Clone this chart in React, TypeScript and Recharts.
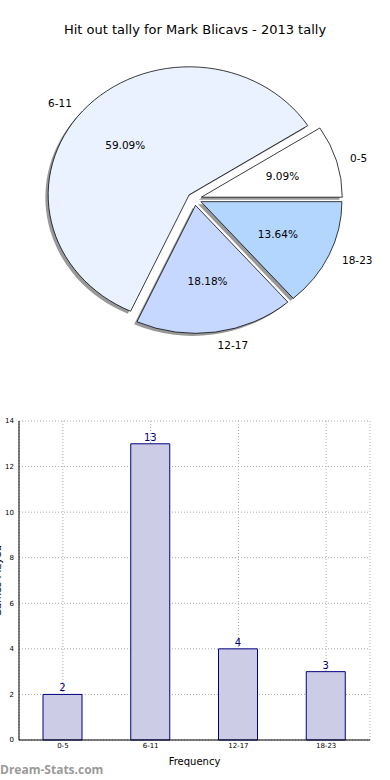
import React from 'react';
import {
  Bar,
  BarChart,
  CartesianGrid,
  Cell,
  LabelList,
  Pie,
  PieChart,
  XAxis,
  YAxis,
} from 'recharts';

const categories = ['0-5', '6-11', '12-17', '18-23'];
const counts = [2, 13, 4, 3];
const pieColors = ['#ffffff', '#eaf1ff', '#c6d8ff', '#b3d6ff'];
const yTicks = [0, 2, 4, 6, 8, 10, 12, 14];

const FONT = '"DejaVu Sans", sans-serif';
const R = 141;
const SY = 128 / 141; // matplotlib pie is not drawn with equal aspect, so it is squashed
const CX = 194.5;
const CY = 199 / SY;
const EXPLODE = 0.05 * R;
const SHADOW = 0.02 * R;

const total = counts.reduce((a, b) => a + b, 0);
const pieData = categories.map((name, i) => ({ name, value: counts[i] }));
const barData = categories.map((name, i) => ({ name, value: counts[i] }));

// mid angle of each wedge, used only for the explode offset
const midAngles = counts.map((_, i) => {
  const before = counts.slice(0, i).reduce((a, b) => a + b, 0);
  return ((before + counts[i] / 2) / total) * 360;
});

const unsquash = (x: number, y: number) =>
  `translate(${x} ${y}) scale(1 ${1 / SY}) translate(${-x} ${-y})`;

const makeLabel = (target: number) => (props: any) => {
  const { cx, cy, midAngle, index, percent } = props;
  if (index !== target) return null;
  const rad = (-midAngle * Math.PI) / 180;
  const lx = cx + 1.1 * R * Math.cos(rad);
  const ly = cy + 1.1 * R * Math.sin(rad);
  const px = cx + 0.6 * R * Math.cos(rad);
  const py = cy + 0.6 * R * Math.sin(rad);
  return (
    <g>
      <text
        x={lx}
        y={ly}
        transform={unsquash(lx, ly)}
        textAnchor={lx > cx ? 'start' : 'end'}
        dominantBaseline="central"
        fontSize={10.5}
        fontFamily={FONT}
        fill="#000"
      >
        {categories[index]}
      </text>
      <text
        x={px}
        y={py}
        transform={unsquash(px, py)}
        textAnchor="middle"
        dominantBaseline="central"
        fontSize={10.5}
        fontFamily={FONT}
        fill="#000"
      >
        {(percent * 100).toFixed(2)}%
      </text>
    </g>
  );
};

const App: React.FC = () => (
  <div style={{ position: 'absolute', left: 0, top: 0, width: 390, height: 780, background: '#fff' }}>
    <div
      style={{
        position: 'absolute',
        left: 0,
        top: 22,
        width: 390,
        textAlign: 'center',
        fontFamily: FONT,
        fontSize: 13,
        color: '#000',
      }}
    >
      Hit out tally for Mark Blicavs - 2013 tally
    </div>

    <div
      style={{
        position: 'absolute',
        left: 0,
        top: 0,
        width: 390,
        height: 420,
        transform: `scaleY(${SY})`,
        transformOrigin: '0 0',
      }}
    >
      <PieChart width={390} height={420} margin={{ top: 0, right: 0, bottom: 0, left: 0 }}>
        {categories.map((c, i) => {
          const rad = (midAngles[i] * Math.PI) / 180;
          return (
            <Pie
              key={`s-${c}`}
              data={pieData}
              dataKey="value"
              nameKey="name"
              cx={CX + EXPLODE * Math.cos(rad) - SHADOW}
              cy={CY - EXPLODE * Math.sin(rad) + SHADOW}
              outerRadius={R}
              startAngle={0}
              endAngle={360}
              isAnimationActive={false}
              labelLine={false}
            >
              {categories.map((_, j) => (
                <Cell
                  key={j}
                  fill={j === i ? '#555555' : 'none'}
                  fillOpacity={0.6}
                  stroke="none"
                />
              ))}
            </Pie>
          );
        })}
        {categories.map((c, i) => {
          const rad = (midAngles[i] * Math.PI) / 180;
          return (
            <Pie
              key={`w-${c}`}
              data={pieData}
              dataKey="value"
              nameKey="name"
              cx={CX + EXPLODE * Math.cos(rad)}
              cy={CY - EXPLODE * Math.sin(rad)}
              outerRadius={R}
              startAngle={0}
              endAngle={360}
              isAnimationActive={false}
              labelLine={false}
              label={makeLabel(i)}
            >
              {categories.map((_, j) => (
                <Cell
                  key={j}
                  fill={j === i ? pieColors[j] : 'none'}
                  stroke={j === i ? '#000' : 'none'}
                  strokeWidth={0.8}
                />
              ))}
            </Pie>
          );
        })}
      </PieChart>
    </div>

    <div style={{ position: 'absolute', left: 0, top: 400 }}>
      <BarChart
        width={390}
        height={380}
        data={barData}
        margin={{ top: 21, right: 20, bottom: 0, left: 0 }}
        barCategoryGap={0}
      >
        <CartesianGrid stroke="#aaa" strokeDasharray="1 2" />
        <XAxis
          dataKey="name"
          height={40}
          tickLine={false}
          tickSize={2}
          tickMargin={1}
          axisLine={{ stroke: '#000' }}
          tick={{ fontSize: 7, fill: '#000', fontFamily: FONT }}
          label={{
            value: 'Frequency',
            position: 'insideBottom',
            offset: 15,
            fontSize: 10,
            fill: '#000',
            fontFamily: FONT,
          }}
        />
        <XAxis
          xAxisId="top"
          dataKey="name"
          orientation="top"
          height={0}
          tick={false}
          tickLine={false}
          axisLine={{ stroke: '#000' }}
        />
        <YAxis
          width={19}
          domain={[0, 14]}
          ticks={yTicks}
          tickLine={false}
          tickSize={3}
          tickMargin={2}
          axisLine={{ stroke: '#000' }}
          tick={{ fontSize: 7, fill: '#000', fontFamily: FONT }}
        />
        <YAxis
          yAxisId="right"
          orientation="right"
          width={0}
          domain={[0, 14]}
          tick={false}
          tickLine={false}
          axisLine={{ stroke: '#000' }}
        />
        <Bar
          dataKey="value"
          barSize={39}
          fill="#cccce6"
          stroke="#000080"
          strokeWidth={1}
          isAnimationActive={false}
        >
          <LabelList
            dataKey="value"
            position="top"
            offset={3}
            fill="#000080"
            fontSize={10}
            fontFamily={FONT}
          />
        </Bar>
      </BarChart>
    </div>

    <svg
      width={20}
      height={780}
      style={{ position: 'absolute', left: 0, top: 0, overflow: 'hidden' }}
    >
      <text
        x={0.5}
        y={581}
        transform="rotate(-90 0.5 581)"
        textAnchor="middle"
        fontSize={10}
        fontFamily={FONT}
        fill="#000"
      >
        Games Played
      </text>
    </svg>

    <div
      style={{
        position: 'absolute',
        left: 0,
        top: 761,
        fontFamily: '"Open Sans", sans-serif',
        fontWeight: 700,
        fontSize: 12,
        color: '#9a9a9a',
      }}
    >
      Dream-Stats.com
    </div>
  </div>
);

export default App;
